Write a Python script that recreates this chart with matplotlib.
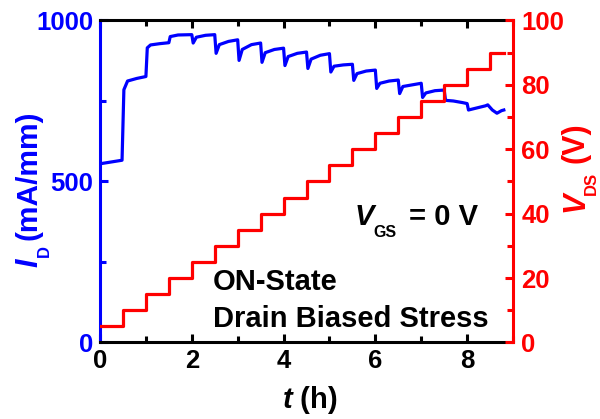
import matplotlib
matplotlib.use('Agg')
import matplotlib.pyplot as plt
from matplotlib.ticker import MultipleLocator

# drain current (t in h, I_D in mA/mm)
t_id = [0.0, 0.48, 0.52, 0.6, 0.8, 1.0,
        1.03, 1.1, 1.3, 1.5,
        1.53, 1.7, 2.0,
        2.03, 2.1, 2.3, 2.5,
        2.53, 2.6, 2.8, 3.0,
        3.03, 3.1, 3.3, 3.5,
        3.53, 3.6, 3.8, 4.0,
        4.03, 4.1, 4.3, 4.5,
        4.53, 4.6, 4.8, 5.0,
        5.03, 5.1, 5.3, 5.5,
        5.53, 5.6, 5.8, 6.0,
        6.03, 6.1, 6.3, 6.5,
        6.53, 6.6, 6.8, 7.0,
        7.03, 7.1, 7.3, 7.5,
        7.53, 7.7, 7.9, 8.0,
        8.03, 8.2, 8.4, 8.45, 8.55, 8.65, 8.75, 8.8]
i_d = [555, 566, 785, 812, 820, 826,
       915, 924, 928, 931,
       950, 955, 956,
       930, 948, 954, 956,
       898, 925, 935, 940,
       876, 910, 925, 930,
       870, 900, 910, 914,
       860, 888, 898, 902,
       851, 880, 892, 897,
       840, 858, 862, 864,
       814, 835, 843, 846,
       789, 805, 812, 815,
       773, 795, 800, 805,
       761, 775, 782, 784,
       752, 750, 745, 742,
       722, 728, 735, 738, 722, 712, 720, 722]

# drain voltage staircase
t_vds = [0.0, 0.5, 1.0, 1.5, 2.0, 2.5, 3.0, 3.5, 4.0, 4.5,
         5.0, 5.5, 6.0, 6.5, 7.0, 7.5, 8.0, 8.5, 8.8]
v_ds = [5, 10, 15, 20, 25, 30, 35, 40, 45, 50,
        55, 60, 65, 70, 75, 80, 85, 90, 90]

BLUE = '#0000ff'
RED = '#ff0000'
W, H = 600, 419

plt.rcParams['font.family'] = ['Liberation Sans', 'DejaVu Sans']
plt.rcParams['font.weight'] = 'bold'
plt.rcParams['mathtext.fontset'] = 'custom'
plt.rcParams['mathtext.rm'] = 'Liberation Sans:bold'
plt.rcParams['mathtext.bf'] = 'Liberation Sans:bold'
plt.rcParams['mathtext.it'] = 'Liberation Sans:bold:italic'

fig = plt.figure(figsize=(6, 4.19), dpi=100)
ax1 = fig.add_axes([0.1667, 0.1826, 0.6883, 0.7685])
ax2 = ax1.twinx()

ax1.plot(t_id, i_d, color=BLUE, lw=2.3)
ax2.step(t_vds, v_ds, where='post', color=RED, lw=2.3)

ax1.set_xlim(0, 9)
ax1.set_ylim(0, 1000)
ax2.set_ylim(0, 100)

ax1.xaxis.set_major_locator(MultipleLocator(2))
ax1.xaxis.set_minor_locator(MultipleLocator(1))
ax1.yaxis.set_major_locator(MultipleLocator(500))
ax1.yaxis.set_minor_locator(MultipleLocator(250))
ax2.yaxis.set_major_locator(MultipleLocator(20))
ax2.yaxis.set_minor_locator(MultipleLocator(10))

for sp in ['top', 'bottom']:
    ax1.spines[sp].set_linewidth(2.2)
    ax1.spines[sp].set_color('k')
ax1.spines['left'].set_linewidth(2.2)
ax1.spines['left'].set_color(BLUE)
ax1.spines['right'].set_visible(False)
for sp in ['top', 'bottom', 'left']:
    ax2.spines[sp].set_visible(False)
ax2.spines['right'].set_linewidth(2.2)
ax2.spines['right'].set_color(RED)

ax1.tick_params(axis='x', which='both', direction='in', top=True,
                width=2.2, colors='k', labelsize=18.5, pad=5)
ax1.tick_params(axis='x', which='major', length=6)
ax1.tick_params(axis='x', which='minor', length=4)
ax1.tick_params(axis='y', which='both', direction='in', width=2.2,
                colors=BLUE, labelsize=18.5, pad=5)
ax1.tick_params(axis='y', which='major', length=6)
ax1.tick_params(axis='y', which='minor', length=4)
ax2.tick_params(axis='y', which='both', direction='in', width=2.2,
                colors=RED, labelsize=18.5, pad=6)
ax2.tick_params(axis='y', which='major', length=6)
ax2.tick_params(axis='y', which='minor', length=4)


def put(x, y, s, size, italic=False, color='k', rot=0):
    # x, y in picture pixels from the top-left, anchored at left baseline
    fig.text(x / W, 1 - y / H, s, fontsize=size, fontweight='bold',
             fontstyle='italic' if italic else 'normal', color=color,
             ha='left', va='baseline', rotation=rot, rotation_mode='anchor')


# axis titles with small subscripts, built piece by piece
put(282, 408, r'$t$ (h)', 21)
put(37, 267, 'I', 22, italic=True, color=BLUE, rot=90)
put(49, 257, 'D', 12, color=BLUE, rot=90)
put(37, 240, '(mA/mm)', 21.5, color=BLUE, rot=90)
put(583, 212, 'V', 22, italic=True, color=RED, rot=90)
put(596, 195, 'DS', 12, color=RED, rot=90)
put(583, 163, '(V)', 22, color=RED, rot=90)

# annotations
put(355, 225, 'V', 21, italic=True)
put(373, 237, 'GS', 11.5)
put(409, 225, '= 0 V', 21)
put(213, 290, 'ON-State', 21)
put(213, 327, 'Drain Biased Stress', 21)

fig.savefig('out.png', dpi=100)
